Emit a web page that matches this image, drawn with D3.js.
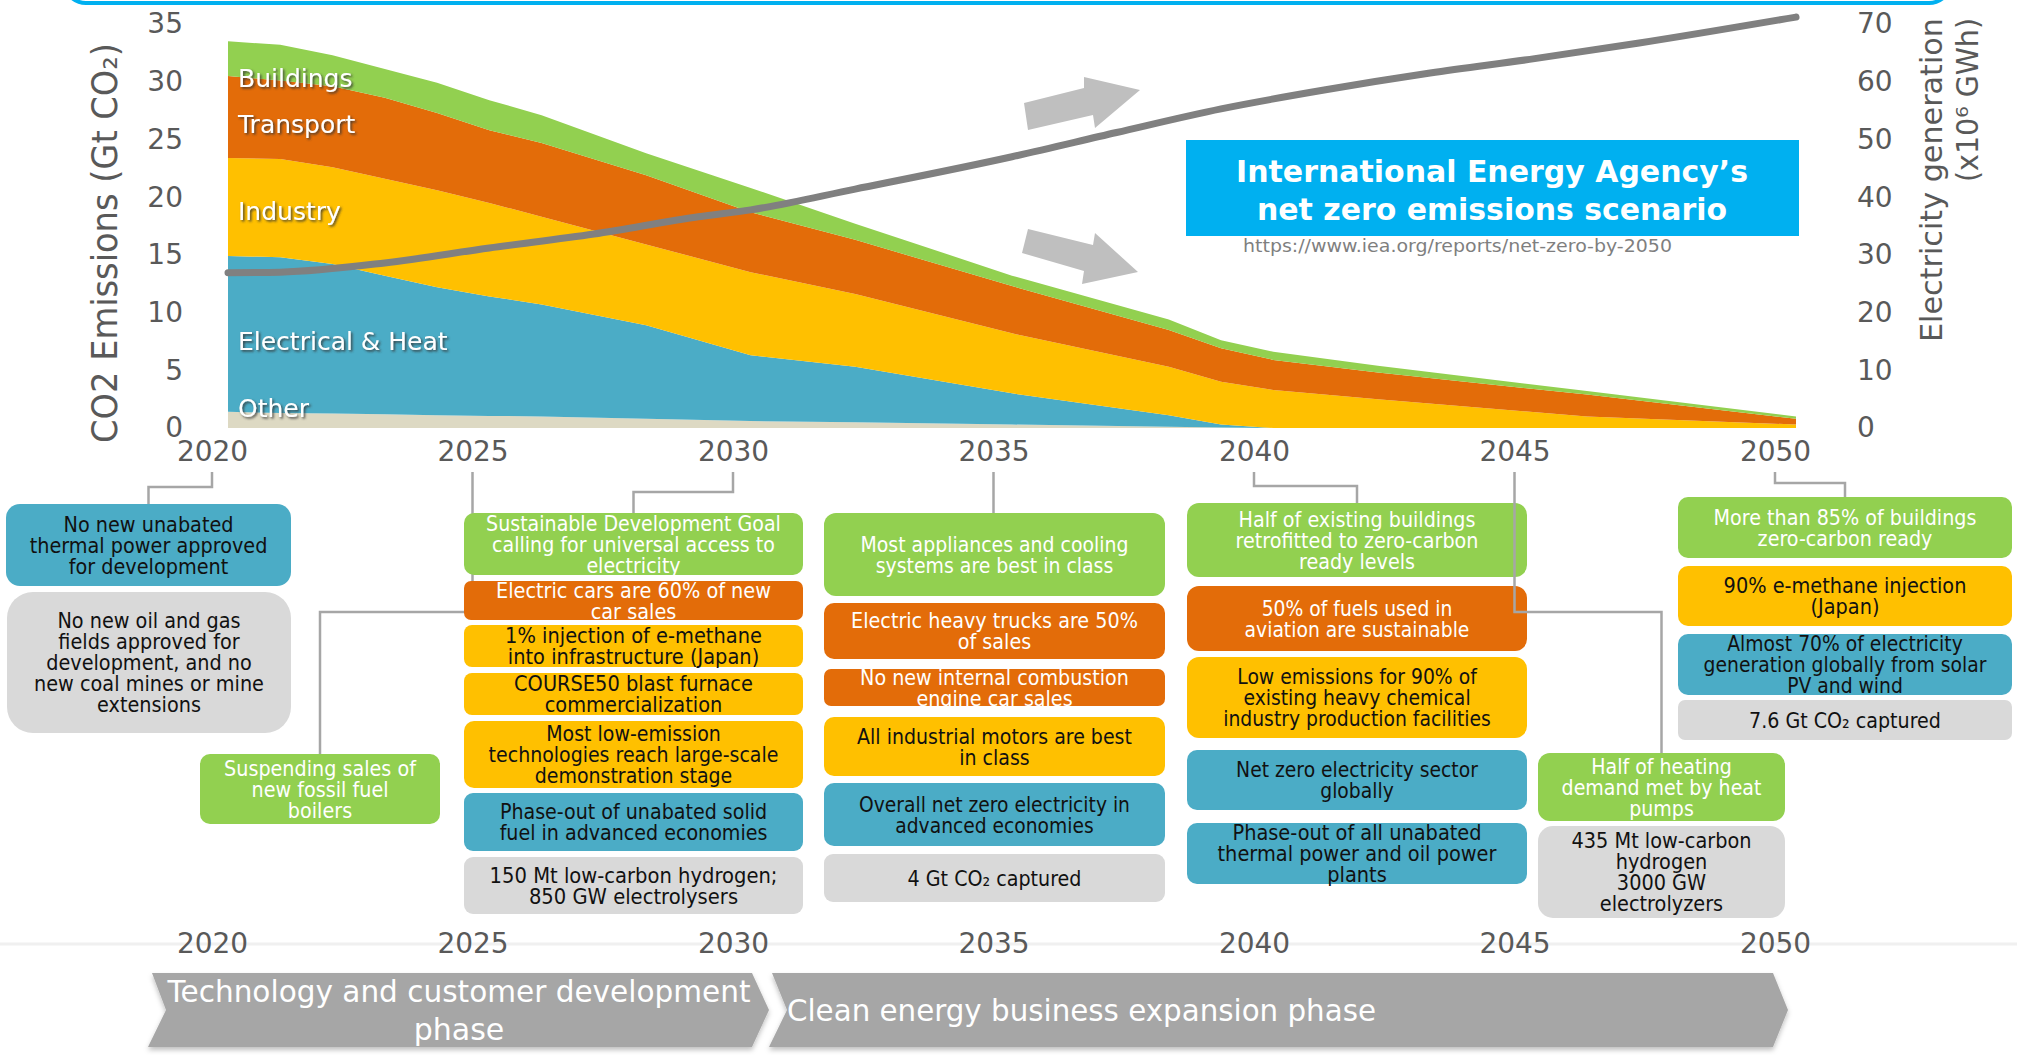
<!DOCTYPE html>
<html>
<head>
<meta charset="utf-8">
<script src="https://cdn.jsdelivr.net/npm/d3@7"></script>
<style>
html, body { margin: 0; padding: 0; background: #fff; overflow: hidden; }
svg { display: block; font-family: "DejaVu Sans", Verdana, sans-serif; }
</style>
</head>
<body>
<div id="chart"></div>
<script>
// ---- data ----
const years = [2020, 2021, 2022, 2023, 2024, 2025, 2026, 2028, 2030, 2032, 2035, 2038, 2039, 2040, 2042, 2046, 2050];
const other          = [1.4, 1.3, 1.25, 1.2, 1.1, 1.05, 1.0, 0.8, 0.6, 0.5, 0.3, 0.1, 0.05, 0, 0, 0, 0];
const electricalHeat = [13.5, 13.5, 12.95, 12.0, 11.1, 10.35, 9.7, 8.1, 5.7, 4.8, 2.7, 1.0, 0.25, 0, 0, 0, 0];
const industry       = [8.5, 8.5, 8.4, 8.4, 8.4, 8.1, 7.6, 7.0, 7.2, 6.3, 5.2, 4.2, 3.7, 3.3, 2.5, 1.0, 0.3];
const transport      = [7.1, 6.8, 7.0, 7.0, 6.7, 6.3, 6.4, 6.0, 5.2, 4.7, 4.1, 3.2, 2.9, 2.6, 2.3, 1.9, 0.5];
const buildings      = [3.0, 3.1, 2.7, 2.5, 2.6, 2.6, 2.4, 1.9, 2.1, 1.4, 0.9, 0.9, 0.7, 0.7, 0.6, 0.3, 0.2];

const genYears   = [2020, 2021, 2023, 2025, 2027, 2029, 2030, 2032, 2035, 2037, 2039, 2041, 2043, 2045, 2047, 2050];
const generation = [26.9, 27.0, 28.6, 31.2, 33.6, 36.6, 37.8, 41.4, 47.0, 51.2, 55.3, 58.6, 61.5, 64.0, 66.7, 71.2];

const sectorNames = ["Other", "Electrical & Heat", "Industry", "Transport", "Buildings"];
const yearTicks = [2020, 2025, 2030, 2035, 2040, 2045, 2050];
const emissionTicks = [0, 5, 10, 15, 20, 25, 30, 35];
const generationTicks = [0, 10, 20, 30, 40, 50, 60, 70];

const milestones = [
    { year: 2020, type: "power", lines: ["No new unabated", "thermal power approved", "for development"] },
    { year: 2020, type: "other", lines: ["No new oil and gas", "fields approved for", "development, and no", "new coal mines or mine", "extensions"] },
    { year: 2025, type: "buildings", lines: ["Suspending sales of", "new fossil fuel", "boilers"] },
    { year: 2030, type: "buildings", lines: ["Sustainable Development Goal", "calling for universal access to", "electricity"] },
    { year: 2030, type: "transport", lines: ["Electric cars are 60% of new", "car sales"] },
    { year: 2030, type: "industry", lines: ["1% injection of e-methane", "into infrastructure (Japan)"] },
    { year: 2030, type: "industry", lines: ["COURSE50 blast furnace", "commercialization"] },
    { year: 2030, type: "industry", lines: ["Most low-emission", "technologies reach large-scale", "demonstration stage"] },
    { year: 2030, type: "power", lines: ["Phase-out of unabated solid", "fuel in advanced economies"] },
    { year: 2030, type: "other", lines: ["150 Mt low-carbon hydrogen;", "850 GW electrolysers"] },
    { year: 2035, type: "buildings", lines: ["Most appliances and cooling", "systems are best in class"] },
    { year: 2035, type: "transport", lines: ["Electric heavy trucks are 50%", "of sales"] },
    { year: 2035, type: "transport", lines: ["No new internal combustion", "engine car sales"] },
    { year: 2035, type: "industry", lines: ["All industrial motors are best", "in class"] },
    { year: 2035, type: "power", lines: ["Overall net zero electricity in", "advanced economies"] },
    { year: 2035, type: "other", lines: ["4 Gt CO₂ captured"] },
    { year: 2040, type: "buildings", lines: ["Half of existing buildings", "retrofitted to zero-carbon", "ready levels"] },
    { year: 2040, type: "transport", lines: ["50% of fuels used in", "aviation are sustainable"] },
    { year: 2040, type: "industry", lines: ["Low emissions for 90% of", "existing heavy chemical", "industry production facilities"] },
    { year: 2040, type: "power", lines: ["Net zero electricity sector", "globally"] },
    { year: 2040, type: "power", lines: ["Phase-out of all unabated", "thermal power and oil power", "plants"] },
    { year: 2045, type: "buildings", lines: ["Half of heating", "demand met by heat", "pumps"] },
    { year: 2045, type: "other", lines: ["435 Mt low-carbon", "hydrogen", "3000 GW", "electrolyzers"] },
    { year: 2050, type: "buildings", lines: ["More than 85% of buildings", "zero-carbon ready"] },
    { year: 2050, type: "industry", lines: ["90% e-methane injection", "(Japan)"] },
    { year: 2050, type: "power", lines: ["Almost 70% of electricity", "generation globally from solar", "PV and wind"] },
    { year: 2050, type: "other", lines: ["7.6 Gt CO₂ captured"] }
];

// ---- layout ----
const W = 2017, H = 1055;
const colors = {
    "Other": "#ddd9c3", "Electrical & Heat": "#4bacc6", "Industry": "#ffc000",
    "Transport": "#e36c09", "Buildings": "#92d050"
};
const boxFill = { buildings: "#92d050", transport: "#e36c09", industry: "#ffc000", power: "#4bacc6", other: "#d9d9d9" };
const boxInk = { buildings: "#fff", transport: "#fff", industry: "#111", power: "#111", other: "#111" };

// x, y, w, h, corner radius, font size, width of widest text line
const frames = [
    [6, 504, 285, 82, 14, 22, 238], [7, 592, 284, 141, 26, 21, 230], [200, 754, 240, 70, 10, 21, 192],
    [464, 513, 339, 62, 10, 21, 295], [464, 581, 339, 39, 7, 21, 275], [464, 625, 339, 42, 8, 21, 257],
    [464, 673, 339, 42, 8, 21, 239], [464, 721, 339, 67, 10, 21, 290], [464, 793, 339, 58, 9, 21, 268],
    [464, 857, 339, 57, 9, 21, 288],
    [824, 513, 341, 83, 12, 21, 268], [824, 603, 341, 56, 10, 21, 287], [824, 669, 341, 37, 7, 21, 269],
    [824, 717, 341, 59, 10, 21, 275], [824, 783, 341, 63, 10, 21, 271], [824, 854, 341, 48, 9, 21, 174],
    [1187, 503, 340, 74, 12, 21, 243], [1187, 586, 340, 65, 12, 21, 225], [1187, 657, 340, 81, 12, 21, 268],
    [1187, 750, 340, 60, 10, 21, 242], [1187, 823, 340, 61, 10, 21, 279],
    [1538, 753, 247, 68, 12, 21, 200], [1538, 826, 247, 92, 15, 21, 180],
    [1678, 497, 334, 61, 10, 21, 263], [1678, 566, 334, 60, 10, 21, 243], [1678, 634, 334, 61, 10, 21, 283],
    [1678, 700, 334, 40, 7, 21, 192]
];
// year, y of the jog, index of the box it leads to
const connectors = [[2020, 487, 0], [2025, 612, 2], [2030, 492, 3], [2035, 513, 10], [2040, 486, 16], [2050, 483, 23]];
const topConnector = [2045, 612, 21];

const svg = d3.select("#chart").append("svg").attr("width", W).attr("height", H);
const defs = svg.append("defs");
defs.append("filter").attr("id", "txtShadow")
    .append("feDropShadow").attr("dx", 1.6).attr("dy", 1.6).attr("stdDeviation", 1)
    .attr("flood-color", "#333").attr("flood-opacity", 0.85);
defs.append("filter").attr("id", "boxShadow").attr("y", "-20%").attr("height", "160%")
    .append("feDropShadow").attr("dx", 0).attr("dy", 3).attr("stdDeviation", 2.5)
    .attr("flood-color", "#000").attr("flood-opacity", 0.25);

const x = d3.scaleLinear().domain([2020, 2050]).range([228, 1796]);
const xl = d3.scaleLinear().domain([2020, 2050]).range([212, 1775]);
const y = d3.scaleLinear().domain([0, 35]).range([428, 24]);
const y2 = d3.scaleLinear().domain([0, 70]).range([428, 24]);

// top frame edge
svg.append("rect").attr("x", 64).attr("y", -60).attr("width", 1887).attr("height", 63)
    .attr("rx", 22).attr("fill", "none").attr("stroke", "#00b0f0").attr("stroke-width", 4);

// faint rule behind the lower year row
svg.append("line").attr("x1", 0).attr("x2", W).attr("y1", 944).attr("y2", 944)
    .attr("stroke", "#f0f0f0").attr("stroke-width", 3);

// ---- stacked emissions ----
const series = [other, electricalHeat, industry, transport, buildings];
const table = years.map((yr, i) => {
    const row = { year: yr };
    sectorNames.forEach((k, j) => row[k] = series[j][i]);
    return row;
});
const stacked = d3.stack().keys(sectorNames)(table);
const area = d3.area().x(d => x(d.data.year)).y0(d => y(d[0])).y1(d => y(d[1]));

svg.append("g").selectAll("path").data(stacked).join("path")
    .attr("d", area).attr("fill", d => colors[d.key]);

// sector labels inside the bands
const sectorLabels = [["Buildings", 87], ["Transport", 133], ["Industry", 220], ["Electrical & Heat", 350], ["Other", 417]];
svg.append("g").selectAll("text").data(sectorLabels).join("text")
    .attr("x", 238).attr("y", d => d[1]).text(d => d[0])
    .attr("fill", "#fff").attr("font-size", 25).attr("filter", "url(#txtShadow)");

// grey block arrows
const arrows = [
    [[1024, 103], [1084, 88], [1084, 77], [1140, 90], [1095, 128], [1093, 115], [1028, 130]],
    [[1028, 229], [1093, 245], [1095, 233], [1138, 272], [1082, 284], [1084, 271], [1022, 253]]
];
svg.append("g").selectAll("polygon").data(arrows).join("polygon")
    .attr("points", d => d.join(" ")).attr("fill", "#bfbfbf");

// title box
svg.append("rect").attr("x", 1186).attr("y", 140).attr("width", 613).attr("height", 96).attr("fill", "#00b0f0");
const titleLines = [["International Energy Agency’s", 182, 512], ["net zero emissions scenario", 220, 470]];
svg.append("g").selectAll("text").data(titleLines).join("text")
    .attr("x", 1492).attr("y", d => d[1]).attr("text-anchor", "middle")
    .attr("font-size", 30).attr("font-weight", "bold").attr("fill", "#fff")
    .attr("textLength", d => d[2]).attr("lengthAdjust", "spacingAndGlyphs")
    .text(d => d[0]);
svg.append("text").attr("x", 1243).attr("y", 252).attr("font-size", 18).attr("fill", "#7f7f7f")
    .attr("textLength", 429).attr("lengthAdjust", "spacingAndGlyphs")
    .text("https://www.iea.org/reports/net-zero-by-2050");

// electricity generation line
const line = d3.line().x((d, i) => x(genYears[i])).y(d => y2(d)).curve(d3.curveMonotoneX);
svg.append("path").datum(generation).attr("d", line)
    .attr("fill", "none").attr("stroke", "#808080").attr("stroke-width", 7).attr("stroke-linecap", "round");

// ---- axes ----
const leftAxis = svg.append("g").attr("transform", "translate(183,0)")
    .call(d3.axisLeft(y).tickValues(emissionTicks).tickSize(0).tickPadding(0));
const rightAxis = svg.append("g").attr("transform", "translate(1857,0)")
    .call(d3.axisRight(y2).tickValues(generationTicks).tickSize(0).tickPadding(0));
[leftAxis, rightAxis].forEach(a => {
    a.select(".domain").remove();
    a.selectAll("text").attr("font-size", 28).attr("fill", "#595959")
        .attr("font-family", "'DejaVu Sans', Verdana, sans-serif");
});

svg.append("text").attr("transform", "translate(117,243) rotate(-90)")
    .attr("text-anchor", "middle").attr("font-size", 35).attr("fill", "#595959")
    .attr("textLength", 400).attr("lengthAdjust", "spacingAndGlyphs")
    .text("CO2 Emissions (Gt CO₂)");
svg.append("text").attr("transform", "translate(1942,180) rotate(-90)")
    .attr("text-anchor", "middle").attr("font-size", 30).attr("fill", "#595959")
    .attr("textLength", 324).attr("lengthAdjust", "spacingAndGlyphs")
    .text("Electricity generation");
svg.append("text").attr("transform", "translate(1978,100) rotate(-90)")
    .attr("text-anchor", "middle").attr("font-size", 30).attr("fill", "#595959")
    .attr("textLength", 164).attr("lengthAdjust", "spacingAndGlyphs")
    .text("(x10⁶ GWh)");

[461, 953].forEach(base => {
    const ax = svg.append("g").attr("transform", `translate(0,${base})`)
        .call(d3.axisBottom(xl).tickValues(yearTicks).tickFormat(d3.format("d")).tickSize(0).tickPadding(0));
    ax.select(".domain").remove();
    ax.selectAll("text").attr("y", 0).attr("dy", 0).attr("font-size", 28).attr("fill", "#595959")
        .attr("font-family", "'DejaVu Sans', Verdana, sans-serif");
});

// ---- milestone boxes ----
function connectorPath(c) {
    const f = frames[c[2]];
    const tx = f[0] + f[2] / 2;
    return `M${xl(c[0])},472 V${c[1]} H${tx} V${f[1]}`;
}
svg.append("g").selectAll("path").data(connectors).join("path")
    .attr("d", connectorPath).attr("fill", "none").attr("stroke", "#a6a6a6").attr("stroke-width", 2.5);

const lh = 21;
milestones.forEach((m, i) => {
    const [bx, by, bw, bh, rx, fs, fit] = frames[i];
    const g = svg.append("g");
    g.append("rect").attr("x", bx).attr("y", by).attr("width", bw).attr("height", bh)
        .attr("rx", rx).attr("fill", boxFill[m.type]);
    const cx = bx + bw / 2, cy = by + bh / 2, n = m.lines.length;
    const tg = g.append("g");
    const texts = m.lines.map((s, k) => tg.append("text")
        .attr("x", 0).attr("y", cy + (k - (n - 1) / 2) * lh + 0.36 * fs)
        .attr("text-anchor", "middle").attr("font-size", fs).attr("fill", boxInk[m.type])
        .text(s));
    const widest = d3.max(texts, t => t.node().getComputedTextLength());
    const s = Math.max(0.5, Math.min(1.15, fit / widest));
    tg.attr("transform", `translate(${cx},0) scale(${s},1)`);
});

svg.append("path").attr("d", connectorPath(topConnector))
    .attr("fill", "none").attr("stroke", "#a6a6a6").attr("stroke-width", 2.5);

// ---- phase chevrons ----
const phases = [
    [[152, 973], [752, 973], [769, 1010], [752, 1047], [148, 1047], [166, 1010]],
    [[772, 973], [1773, 973], [1788, 1010], [1773, 1047], [769, 1047], [787, 1010]]
];
svg.append("g").selectAll("polygon").data(phases).join("polygon")
    .attr("points", d => d.join(" ")).attr("fill", "#a6a6a6").attr("filter", "url(#boxShadow)");

svg.append("text").attr("x", 459).attr("y", 1002).attr("text-anchor", "middle")
    .attr("font-size", 30).attr("fill", "#fff")
    .attr("textLength", 583).attr("lengthAdjust", "spacingAndGlyphs")
    .text("Technology and customer development");
svg.append("text").attr("x", 459).attr("y", 1040).attr("text-anchor", "middle")
    .attr("font-size", 30).attr("fill", "#fff").text("phase");
svg.append("text").attr("x", 787).attr("y", 1021)
    .attr("font-size", 30).attr("fill", "#fff")
    .attr("textLength", 589).attr("lengthAdjust", "spacingAndGlyphs")
    .text("Clean energy business expansion phase");
</script>
</body>
</html>
